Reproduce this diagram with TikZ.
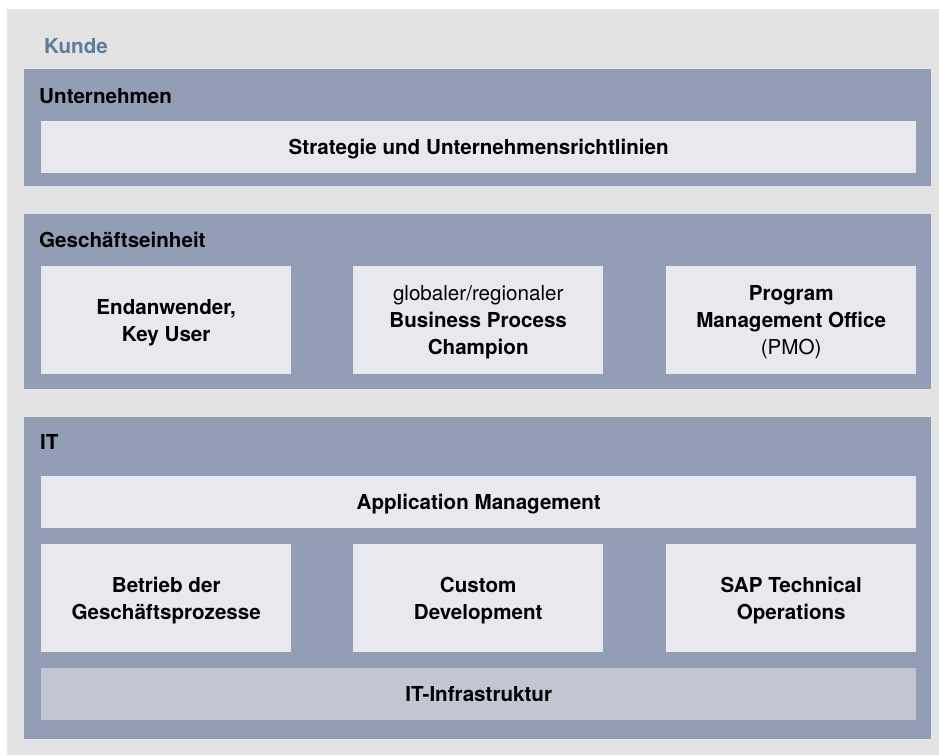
\documentclass[tikz,border=0pt]{standalone}
\usepackage{fontspec}
\setmainfont{TeX Gyre Heros}
\begin{document}
\definecolor{panelgray}{RGB}{227,227,227}
\definecolor{groupblue}{RGB}{145,158,181}
\definecolor{cardlight}{RGB}{232,233,238}
\definecolor{infragray}{RGB}{194,198,210}
\definecolor{titleblue}{RGB}{94,125,153}
\begin{tikzpicture}[x=1pt,y=-1pt,
  group/.style={fill=groupblue, draw=none, anchor=north west, inner sep=0pt},
  card/.style={fill=cardlight, draw=none, anchor=north west, inner sep=0pt,
    align=center, font=\fontsize{20.6}{27}\selectfont\bfseries},
  % fixed text box heights so the cap line sits centred in each card
  oneline/.style={text height=15pt, text depth=0pt},
  twolines/.style={text height=42pt, text depth=0pt},
  threelines/.style={text height=69pt, text depth=0pt},
  grouptitle/.style={anchor=base west, inner sep=0pt,
    font=\fontsize{20.6}{24}\selectfont\bfseries}]
  % page and panel
  \path[use as bounding box, fill=white] (0,0) rectangle (939,755);
  \fill[panelgray] (7,9) rectangle (939,755);
  \node[grouptitle, text=titleblue] (kunde) at (44,53) {Kunde};

  % Unternehmen
  \node[group, minimum width=907pt, minimum height=117pt] (unt) at (24,69) {};
  \node[grouptitle] (untT) at (39,103) {Unternehmen};
  \node[card, oneline, minimum width=875pt, minimum height=52pt] (strat) at (41,121)
    {Strategie und Unternehmensrichtlinien};

  % Geschaeftseinheit
  \node[group, minimum width=907pt, minimum height=175pt] (ge) at (24,214) {};
  \node[grouptitle] (geT) at (39,247) {Geschäftseinheit};
  \node[card, twolines, minimum width=250pt, minimum height=108pt] (endu) at (41,266)
    {Endanwender,\\Key User};
  \node[card, threelines, minimum width=250pt, minimum height=108pt] (bpc) at (353,266)
    {{\mdseries globaler/regionaler}\\Business Process\\Champion};
  \node[card, threelines, minimum width=250pt, minimum height=108pt] (pmo) at (666,266)
    {Program\\Management Office\\{\mdseries (PMO)}};

  % IT
  \node[group, minimum width=907pt, minimum height=322pt] (it) at (24,417) {};
  \node[grouptitle] (itT) at (40,449) {IT};
  \node[card, oneline, minimum width=875pt, minimum height=52pt] (appm) at (41,476)
    {Application Management};
  \node[card, twolines, minimum width=250pt, minimum height=108pt] (betr) at (41,544)
    {Betrieb der\\Geschäftsprozesse};
  \node[card, twolines, minimum width=250pt, minimum height=108pt] (cdev) at (353,544)
    {Custom\\Development};
  \node[card, twolines, minimum width=250pt, minimum height=108pt] (sapto) at (666,544)
    {SAP Technical\\Operations};
  \node[card, oneline, fill=infragray, minimum width=875pt, minimum height=52pt] (infra) at (41,668)
    {IT-Infrastruktur};
\end{tikzpicture}
\end{document}
